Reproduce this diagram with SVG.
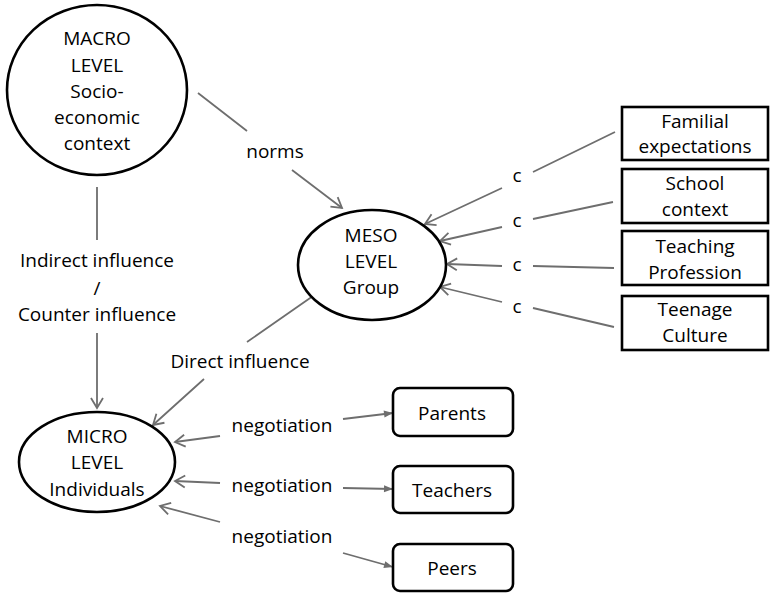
<svg xmlns="http://www.w3.org/2000/svg" width="771" height="594" viewBox="0 0 771 594">
<style>
text{font-family:"Open Sans","Liberation Sans",sans-serif;font-size:19px;fill:#000;text-anchor:middle}
.node{fill:#fff;stroke:#000;stroke-width:2.6}
.conn{fill:none;stroke:#6e6e6e;stroke-width:1.8}
.open{marker-end:url(#openHead)}
.fill{marker-end:url(#fillHead)}
</style>
<defs>
<marker id="openHead" markerUnits="userSpaceOnUse" markerWidth="16" markerHeight="16" viewBox="-12 -8 16 16" refX="0" refY="0" orient="auto">
<path d="M-10,-6 L0,0 L-10,6" fill="none" stroke="#6e6e6e" stroke-width="1.8"/>
</marker>
<marker id="fillHead" markerUnits="userSpaceOnUse" markerWidth="14" markerHeight="10" viewBox="-10 -5 12 10" refX="0" refY="0" orient="auto">
<path d="M-9,-3.5 L0,0 L-9,3.5 Z" fill="#6e6e6e"/>
</marker>
</defs>
<rect width="771" height="594" fill="#fff"/>
<g id="connectors">
<path class="conn open" d="M198,93 L247,131 M292,170 L342,208"/>
<path class="conn open" d="M97,187 L97,240 M97,333 L97,408"/>
<path class="conn open" d="M313,296 L247,342 M204,379 L153,425"/>
<path class="conn open" d="M615,132 L533,172 M502,188 L425,224"/>
<path class="conn open" d="M613,202 L533,219 M502,227 L440,241"/>
<path class="conn open" d="M614,268 L533,266 M502,266 L447,264"/>
<path class="conn open" d="M614,327 L533,308 M502,302 L440,287"/>
<path class="conn open" d="M220,436 L175,442"/>
<path class="conn fill" d="M343,419 L393,413"/>
<path class="conn open" d="M220,483 L175,481"/>
<path class="conn fill" d="M343,488 L393,489"/>
<path class="conn open" d="M220,522 L160,506"/>
<path class="conn fill" d="M343,553 L393,567"/>
</g>
<g id="labels">
<text x="275" y="158">norms</text>
<text x="517" y="182">c</text>
<text x="517" y="227">c</text>
<text x="517" y="271">c</text>
<text x="517" y="313">c</text>
<text x="97" y="267">Indirect influence</text>
<text x="97" y="295">/</text>
<text x="97" y="321">Counter influence</text>
<text x="240" y="368">Direct influence</text>
<text x="282" y="432">negotiation</text>
<text x="282" y="492">negotiation</text>
<text x="282" y="543">negotiation</text>
</g>
<g id="macro">
<ellipse class="node" cx="97" cy="90" rx="90" ry="85"/>
<text x="97" y="45">MACRO</text>
<text x="97" y="72">LEVEL</text>
<text x="97" y="98">Socio-</text>
<text x="97" y="124">economic</text>
<text x="97" y="150">context</text>
</g>
<g id="meso">
<ellipse class="node" cx="372" cy="265" rx="74" ry="55"/>
<text x="371" y="242">MESO</text>
<text x="371" y="268">LEVEL</text>
<text x="371" y="294">Group</text>
</g>
<g id="micro">
<ellipse class="node" cx="97" cy="462" rx="78" ry="50"/>
<text x="97" y="443">MICRO</text>
<text x="97" y="469">LEVEL</text>
<text x="97" y="496">Individuals</text>
</g>
<g id="familial">
<rect class="node" x="622" y="107" width="146" height="53"/>
<text x="695" y="128">Familial</text>
<text x="695" y="153">expectations</text>
</g>
<g id="school">
<rect class="node" x="622" y="169" width="146" height="54"/>
<text x="695" y="190">School</text>
<text x="695" y="216">context</text>
</g>
<g id="teaching">
<rect class="node" x="622" y="231" width="146" height="54"/>
<text x="695" y="253">Teaching</text>
<text x="695" y="279">Profession</text>
</g>
<g id="teenage">
<rect class="node" x="622" y="296" width="146" height="54"/>
<text x="695" y="316">Teenage</text>
<text x="695" y="342">Culture</text>
</g>
<g id="parents">
<rect class="node" x="393" y="388" width="120" height="48" rx="7"/>
<text x="452" y="420">Parents</text>
</g>
<g id="teachers">
<rect class="node" x="393" y="466" width="120" height="47" rx="7"/>
<text x="452" y="497">Teachers</text>
</g>
<g id="peers">
<rect class="node" x="393" y="544" width="120" height="47" rx="7"/>
<text x="452" y="575">Peers</text>
</g>
</svg>
